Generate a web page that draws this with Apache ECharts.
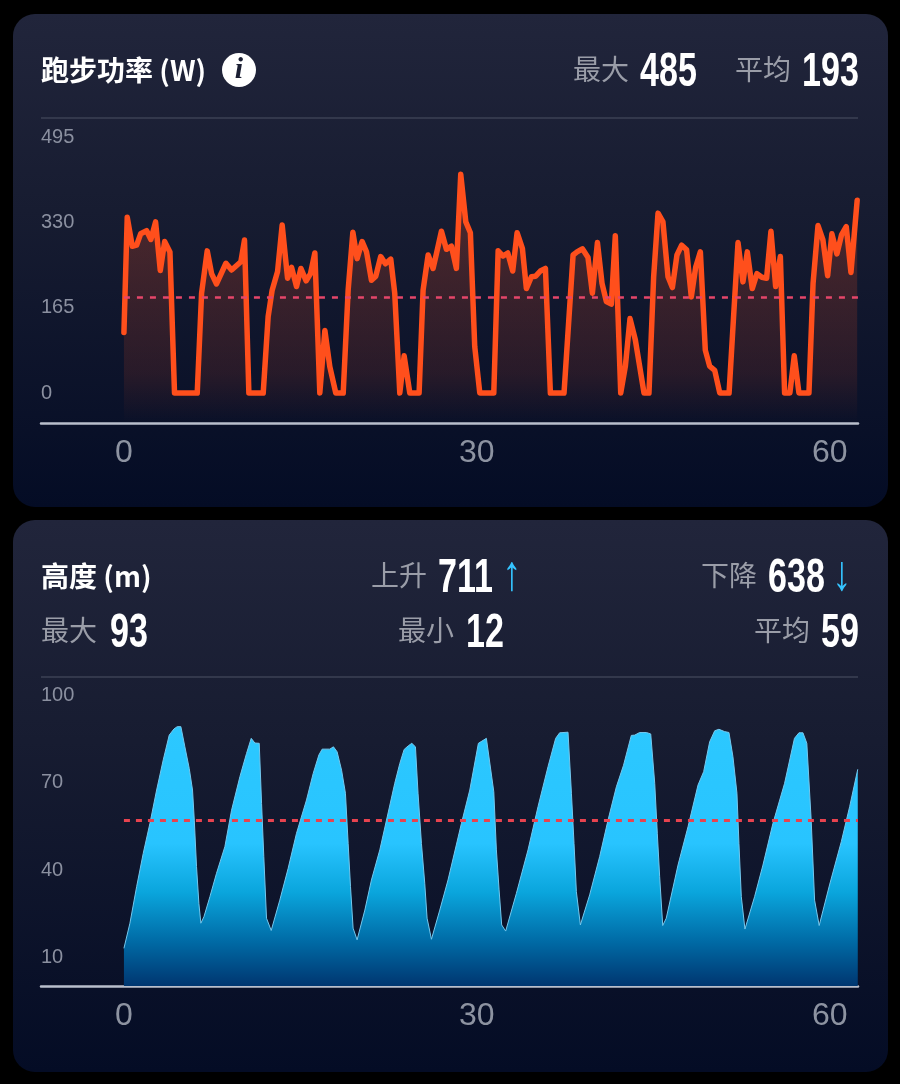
<!DOCTYPE html>
<html><head><meta charset="utf-8">
<style>html,body{margin:0;padding:0;background:#000}#c{width:900px;height:1084px}</style>
<script src="https://cdn.jsdelivr.net/npm/echarts@6/dist/echarts.min.js"></script>
</head><body><div id="c"></div>
<script>
const xTicks=[0,30,60];
const powerTicks=[0,165,330,495];
const altTicks=[10,40,70,100];
const powerMean=186;
const altMean=57;
const powerTimes=[0,0.28,0.71,1.08,1.42,1.93,2.29,2.69,3.09,3.46,3.91,4.30,6.23,6.60,7.08,7.45,7.87,8.67,9.15,9.94,10.25,10.62,11.84,12.26,12.60,13.06,13.45,13.91,14.25,14.67,15.04,15.49,15.86,16.23,16.65,17.08,17.50,18.01,18.64,19.06,19.46,19.82,20.25,20.62,21.04,21.41,21.83,22.23,22.68,23.02,23.45,23.82,24.30,25.09,25.43,25.86,26.28,26.57,26.99,27.41,27.84,28.26,28.63,29.06,29.45,29.82,30.25,31.44,31.81,32.23,32.63,33.05,33.42,33.87,34.21,34.64,35.00,35.40,35.83,36.25,37.41,38.18,38.52,38.97,39.45,39.82,40.25,40.64,41.01,41.43,41.77,42.23,42.62,43.02,43.47,44.21,44.63,45.03,45.40,45.82,46.25,46.62,47.01,47.41,47.83,48.23,48.60,49.00,49.42,49.79,50.22,50.65,51.44,51.84,52.20,52.62,52.99,53.41,53.81,54.23,54.63,55.00,55.40,55.80,56.16,56.61,56.98,57.38,58.23,58.58,59.00,59.42,59.82,60.18,60.61,61.00,61.40,61.80,62.33];
const powerValues=[117,340,284,286,308,314,297,331,237,293,273,0,0,193,275,231,211,251,238,254,296,0,0,148,199,235,325,222,243,206,241,217,231,271,0,121,51,0,0,199,311,260,293,273,218,226,264,250,259,193,0,72,0,0,199,267,241,270,313,278,284,241,423,331,310,90,0,0,275,265,271,236,310,280,202,225,226,236,241,0,0,267,273,279,262,193,291,212,177,172,304,0,51,144,103,0,0,225,348,331,225,204,267,286,277,186,243,273,83,52,44,0,0,154,291,215,273,202,231,224,222,313,206,264,0,0,72,0,0,212,324,296,227,308,269,306,322,233,373];
const altTimes=[0,0.51,1.08,1.64,2.21,2.78,3.34,3.85,4.25,4.53,4.84,5.18,5.55,5.83,5.98,6.17,6.37,6.54,6.8,7.31,7.87,8.58,9.15,9.86,10.42,10.82,11.13,11.5,11.70,11.89,12.12,12.52,13.25,13.96,14.67,15.52,16.09,16.57,16.85,17.5,17.81,18.12,18.5,18.83,19.06,19.26,19.48,19.82,20.48,21.04,21.75,22.32,23.02,23.45,23.82,24.16,24.47,24.78,25.0,25.29,25.57,25.77,26.14,26.85,27.55,28.69,29.4,30.13,30.81,31.44,31.66,31.89,32.11,32.45,33.36,34.35,35.2,36.05,36.7,37.04,37.75,38.04,38.26,38.46,38.8,39.59,40.44,41.15,41.86,42.47,43.13,43.42,43.84,44.41,44.78,45.12,45.34,45.54,45.8,46.1,47.1,47.95,48.8,49.28,49.79,50.22,50.58,51.06,51.43,51.77,52.11,52.28,52.48,52.79,53.61,54.32,55.17,56.16,57.0,57.38,57.72,58.05,58.42,58.71,59.1,59.98,60.98,61.69,62.38];
const altValues=[13.3,21.9,34.4,45.8,56.1,67.5,77.8,86.3,88.4,89.2,89.2,82.3,74.9,67.5,57.2,41.3,28.7,21.9,24.1,31,39,48.1,60.6,72.1,80,85.2,83.6,83.5,62.9,44.7,23.6,19.4,29.8,40.7,52.7,64.1,73.2,79.5,81.5,81.5,82.3,80.6,74.3,66.4,49.2,34.4,20.2,16.2,26.4,36.7,47,57.2,69.8,76.6,81.4,82.6,83.5,82.3,66.4,49.2,35.6,23.6,16.4,26.4,36.7,56.1,67.5,83.5,85.2,66.9,47,33.3,21.3,19.2,32.1,47,61.8,75.5,85.2,87.1,87.3,66.4,49.2,32.7,21.3,31.6,44.7,57.2,68.6,76,86.2,86.3,87.2,87.2,86.7,69.8,52.7,37.8,21.1,23.6,41.8,54.9,69.2,73.8,84,87.8,88.3,87.5,87.2,78.9,66.4,49.2,31,19.9,31,41.8,56.1,69.8,85.2,87.1,87.1,83.5,57.2,29.8,21.1,35,49.8,61.8,74.6];
const pair=(a,b)=>a.map((t,i)=>[t,b[i]]);

const SANS='"Liberation Sans",sans-serif';
const CJK='"Noto Sans CJK SC",sans-serif';
const WHITE='#ffffff', GRAY='#9a9da8', BLUE='#35c4ff';
function label(s,x,y){return {type:'text',z:10,x,y,style:{text:s,fill:GRAY,font:'400 28px '+CJK,textAlign:'left',textVerticalAlign:'middle'}};}
function head(s,x,y,w){return {type:'text',z:10,x,y,style:{text:s,fill:WHITE,font:w+' 28px '+CJK,textAlign:'left',textVerticalAlign:'middle'}};}
function big(s,x,y){return {type:'text',z:10,x,y,scaleX:0.71,style:{text:s,fill:WHITE,font:'700 48px '+SANS,textAlign:'left',textVerticalAlign:'middle'}};}
function card(y,h){return {type:'rect',z:-5,shape:{x:13,y,width:875,height:h,r:22},style:{fill:new echarts.graphic.LinearGradient(0,0,0,1,[{offset:0,color:'#21253b'},{offset:0.4,color:'#171c31'},{offset:1,color:'#040c25'}])}};}
function rule(y){return {type:'rect',z:1,shape:{x:41,y:y-1,width:817,height:2},style:{fill:'#33384c'}};}
function arrow(s,x,y){return {type:'text',z:10,x,y,scaleY:1.3,style:{text:s,fill:BLUE,font:'400 38px '+SANS,textAlign:'center',textVerticalAlign:'middle'}};}

function grid(top,h){return {left:41,right:42,top,height:h};}
function xA(i){return {type:'value',gridIndex:i,min:-7.05,max:62.4,splitLine:{show:false},axisTick:{show:false},
  axisLine:{show:true,onZero:false,lineStyle:{color:'#b9bfcc',width:2.5}},
  axisLabel:{customValues:xTicks,margin:14,color:'#8d93a1',fontSize:32,fontFamily:SANS}};}
function yA(i,min,max,ticks){return {type:'value',gridIndex:i,min,max,splitLine:{show:false},axisTick:{show:false},axisLine:{show:false},
  axisLabel:{customValues:ticks,inside:true,margin:0,color:'#8b90a0',fontSize:20,fontFamily:SANS,align:'left',verticalAlign:'middle'}};}

const chart=echarts.init(document.getElementById('c'),null,{renderer:'canvas'});
chart.setOption({
  animation:false,
  backgroundColor:'#000',
  grid:[grid(118,305),grid(677,309)],
  xAxis:[xA(0),xA(1)],
  yAxis:[yA(0,-58,532,powerTicks),yA(1,0.4,106.2,altTicks)],
  graphic:[
    card(14,493),card(520,552),rule(118),rule(677),
    head('跑步功率 (W)',41,70,700),
    {type:'circle',z:10,shape:{cx:239,cy:70,r:17},style:{fill:WHITE}},
    {type:'text',z:11,x:239,y:70,style:{text:'i',fill:'#1b1f33',font:'italic 700 30px "Liberation Serif"',textAlign:'center',textVerticalAlign:'middle'}},
    label('最大',573,69),big('485',640,73),label('平均',735,69),big('193',802,73),
    head('高度 (m)',41,576,700),
    label('上升',371,575),big('711',438,579),arrow('↑',512,576),
    label('下降',701,575),big('638',768,579),arrow('↓',842,576),
    label('最大',41,630),big('93',110,634),
    label('最小',398,630),big('12',466,634),
    label('平均',754,630),big('59',821,634)
  ],
  series:[
    {type:'line',xAxisIndex:0,yAxisIndex:0,data:pair(powerTimes,powerValues),showSymbol:false,z:3,
     lineStyle:{color:'#ff4f1c',width:5.5,join:'round',cap:'round'},
     areaStyle:{origin:'start',color:new echarts.graphic.LinearGradient(0,0,0,1,[{offset:0,color:'rgba(255,80,30,0.36)'},{offset:0.8,color:'rgba(255,80,30,0.16)'},{offset:1,color:'rgba(255,80,30,0)'}])},
     markLine:{silent:true,symbol:'none',label:{show:false},z:4,lineStyle:{color:'#e5466a',type:[6,7],width:2.5},
       data:[[{coord:[0,powerMean]},{coord:[62.4,powerMean]}]]}},
    {type:'line',xAxisIndex:1,yAxisIndex:1,data:pair(altTimes,altValues),showSymbol:false,z:3,
     lineStyle:{color:'#74c8ee',width:1},
     areaStyle:{origin:'start',opacity:1,color:new echarts.graphic.LinearGradient(0,0,0,1,[{offset:0,color:'#2cc8ff'},{offset:0.45,color:'#28c4ff'},{offset:0.64,color:'#0aa5dc'},{offset:0.83,color:'#006aa5'},{offset:1,color:'#003670'}])},
     markLine:{silent:true,symbol:'none',label:{show:false},z:4,lineStyle:{color:'#e8434f',type:[6,6],width:3},
       data:[[{coord:[0,altMean]},{coord:[62.4,altMean]}]]}}
  ]
});
</script></body></html>
